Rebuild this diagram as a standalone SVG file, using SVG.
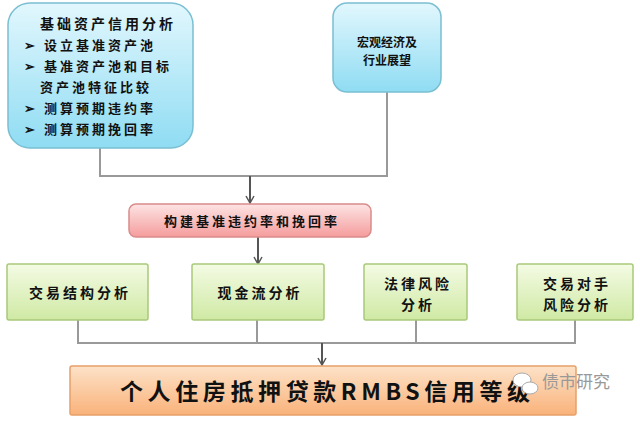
<svg xmlns="http://www.w3.org/2000/svg" width="640" height="431" viewBox="0 0 640 431">
<style>
text{font-family:"Noto Sans CJK SC","Liberation Sans",sans-serif;font-weight:bold;fill:#111}
.c{stroke:#999;stroke-width:2;fill:none}
.a{stroke:#555;stroke-width:2;fill:none;marker-end:url(#ar)}
.g{fill:url(#gg);stroke:#a9c97a;stroke-width:1.5}
.s{letter-spacing:3px}
</style>
<defs>
<linearGradient id="bg" x1="0" y1="0" x2="0" y2="1"><stop offset="0" stop-color="#e2f7fd"/><stop offset="1" stop-color="#8fdcf3"/></linearGradient>
<linearGradient id="pg" x1="0" y1="0" x2="0" y2="1"><stop offset="0" stop-color="#fde4e4"/><stop offset="1" stop-color="#f59c9c"/></linearGradient>
<linearGradient id="gg" x1="0" y1="0" x2="0" y2="1"><stop offset="0" stop-color="#f4fbe4"/><stop offset="1" stop-color="#cfe9a4"/></linearGradient>
<linearGradient id="og" x1="0" y1="0" x2="0" y2="1"><stop offset="0" stop-color="#fde2c8"/><stop offset="1" stop-color="#f9b27a"/></linearGradient>
<marker id="ar" markerWidth="10" markerHeight="10" refX="8" refY="5" orient="auto" markerUnits="userSpaceOnUse"><path d="M1,1 L8,5 L1,9" fill="none" stroke="#555" stroke-width="1.5"/></marker>
</defs>
<g id="connectors">
<path class="c" d="M100,148 V176 H387 V92"/>
<path class="a" d="M250,176 V203"/>
<path class="a" d="M258,237 V264"/>
<path class="c" d="M78,320 V343 H575 V320 M257,320 V343 M416,320 V343"/>
<path class="a" d="M322,343 V365"/>
</g>
<g id="n1">
<rect x="8" y="3" width="185" height="145" rx="22" fill="url(#bg)" stroke="#7bbfd2" stroke-width="1.5"/>
<text class="s" x="40" y="29" font-size="14">基础资产信用分析</text>
<text class="s" x="24" y="50" font-size="13">➢ 设立基准资产池</text>
<text class="s" x="24" y="71" font-size="13">➢ 基准资产池和目标</text>
<text class="s" x="40" y="92" font-size="13">资产池特征比较</text>
<text class="s" x="24" y="113" font-size="13">➢ 测算预期违约率</text>
<text class="s" x="24" y="134" font-size="13">➢ 测算预期挽回率</text>
</g>
<g id="n2">
<rect x="333" y="3" width="108" height="89" rx="14" fill="url(#bg)" stroke="#7bbfd2" stroke-width="1.5"/>
<text x="387" y="47" font-size="12" text-anchor="middle">宏观经济及</text>
<text x="387" y="65" font-size="12" text-anchor="middle">行业展望</text>
</g>
<g id="n3">
<rect x="129" y="204" width="242" height="33" rx="7" fill="url(#pg)" stroke="#d98c8c" stroke-width="1.5"/>
<text class="s" x="252" y="226" font-size="13" text-anchor="middle">构建基准违约率和挽回率</text>
</g>
<g id="n4"><rect class="g" x="7" y="264" width="141" height="56" rx="2"/><text class="s" x="80" y="298" font-size="14" text-anchor="middle">交易结构分析</text></g>
<g id="n5"><rect class="g" x="192" y="264" width="132" height="56" rx="2"/><text class="s" x="260" y="298" font-size="14" text-anchor="middle">现金流分析</text></g>
<g id="n6"><rect class="g" x="364" y="264" width="103" height="56" rx="2"/><text class="s" x="418" y="289" font-size="14" text-anchor="middle">法律风险</text><text class="s" x="418" y="310" font-size="14" text-anchor="middle">分析</text></g>
<g id="n7"><rect class="g" x="517" y="264" width="116" height="56" rx="2"/><text class="s" x="577" y="289" font-size="14" text-anchor="middle">交易对手</text><text class="s" x="577" y="310" font-size="14" text-anchor="middle">风险分析</text></g>
<g id="n8">
<rect x="70" y="366" width="506" height="49" rx="2" fill="url(#og)" stroke="#e8a06a" stroke-width="1.5"/>
<text x="120" y="400" font-size="23" font-family="Liberation Serif,Noto Sans CJK SC,serif" textLength="410" lengthAdjust="spacing">个人住房抵押贷款RMBS信用等级</text>
</g>
<g id="watermark">
<ellipse cx="522" cy="380" rx="9" ry="7" fill="#fff" stroke="#aaa"/>
<ellipse cx="530" cy="388" rx="8" ry="6" fill="#fff" stroke="#aaa"/>
<text x="542" y="388" font-size="17" style="fill:#999;font-weight:normal">债市研究</text>
</g>
</svg>
